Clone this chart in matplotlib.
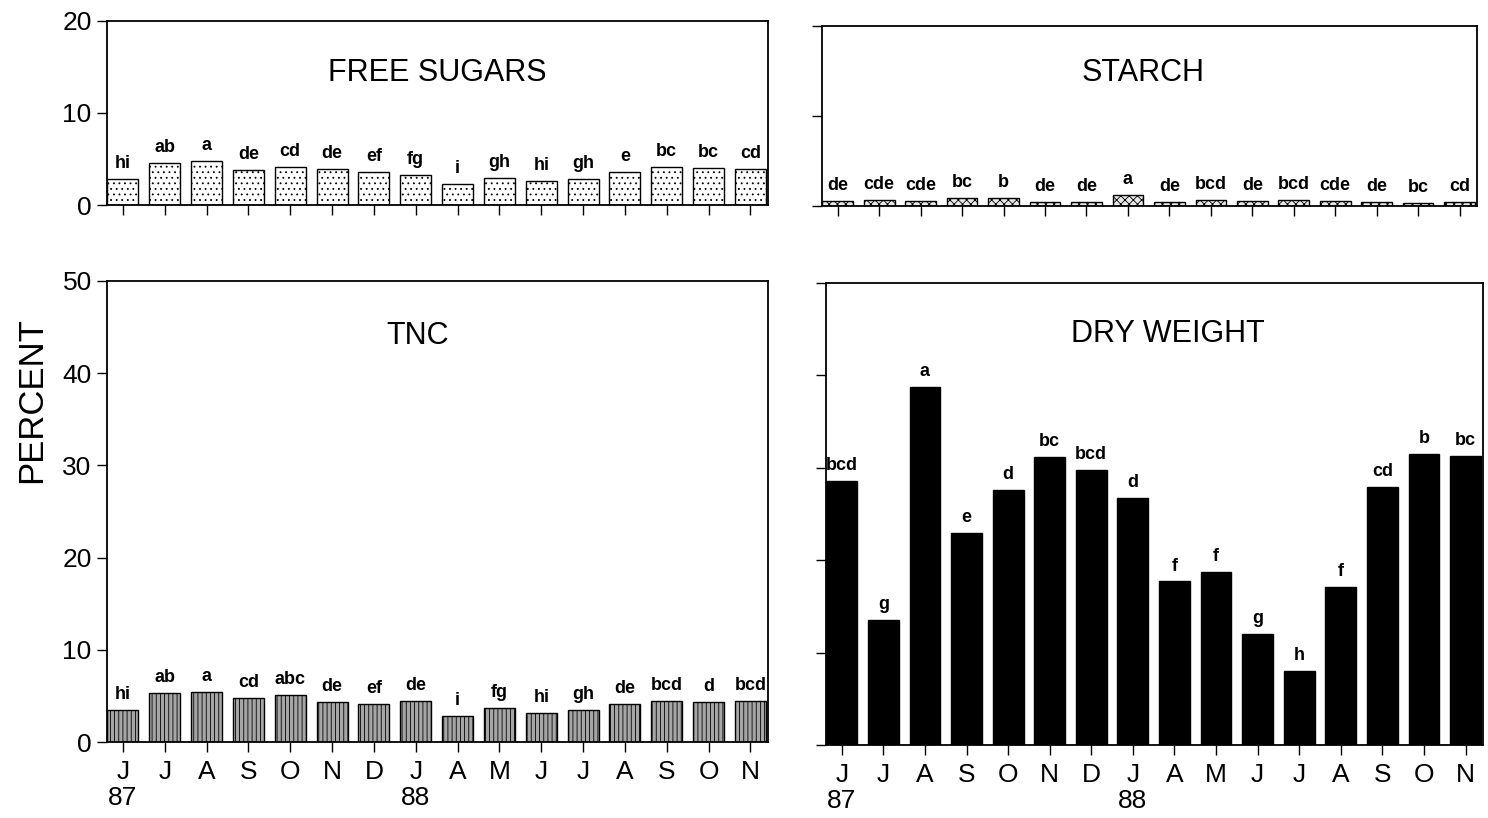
import numpy as np
import matplotlib
matplotlib.use("Agg")
import matplotlib.pyplot as plt

plt.rcParams['font.family'] = ['Liberation Sans', 'DejaVu Sans']
plt.rcParams['hatch.linewidth'] = 0.6

# Données
months = ['J', 'J', 'A', 'S', 'O', 'N', 'D', 'J', 'A', 'M', 'J', 'J', 'A', 'S', 'O', 'N']
years = {0: '87', 7: '88'}

sugars = [2.8, 4.55, 4.8, 3.8, 4.1, 3.9, 3.56, 3.24, 2.33, 2.95, 2.58, 2.8, 3.56, 4.1, 4.04, 3.9]
sugars_lab = ['hi', 'ab', 'a', 'de', 'cd', 'de', 'ef', 'fg', 'i', 'gh', 'hi', 'gh', 'e', 'bc', 'bc', 'cd']

starch = [0.55, 0.7, 0.6, 0.9, 0.9, 0.4, 0.45, 1.2, 0.4, 0.7, 0.55, 0.65, 0.55, 0.4, 0.35, 0.5]
starch_lab = ['de', 'cde', 'cde', 'bc', 'b', 'de', 'de', 'a', 'de', 'bcd', 'de', 'bcd', 'cde', 'de', 'bc', 'cd']

tnc = [3.45, 5.35, 5.45, 4.8, 5.1, 4.36, 4.1, 4.5, 2.8, 3.7, 3.15, 3.5, 4.1, 4.5, 4.36, 4.4]
tnc_lab = ['hi', 'ab', 'a', 'cd', 'abc', 'de', 'ef', 'de', 'i', 'fg', 'hi', 'gh', 'de', 'bcd', 'd', 'bcd']

dry = [28.6, 13.5, 38.7, 22.9, 27.6, 31.2, 29.8, 26.7, 17.7, 18.7, 12.0, 8.0, 17.1, 27.9, 31.5, 31.3]
dry_lab = ['bcd', 'g', 'a', 'e', 'd', 'bc', 'bcd', 'd', 'f', 'f', 'g', 'h', 'f', 'cd', 'b', 'bc']

W, H = 1488, 818
fig = plt.figure(figsize=(W / 100, H / 100), dpi=100)


def rect(left, right, top, bottom):
    return [left / W, 1 - bottom / H, (right - left) / W, (bottom - top) / H]


def panel(r, vals, labs, ymax, yticks, title, tpos, showy, showx, **barkw):
    ax = fig.add_axes(r)
    x = np.arange(len(vals))
    bars = ax.bar(x, vals, width=0.74, edgecolor='black', linewidth=1.0, **barkw)
    for b, lab in zip(bars, labs):
        ax.annotate(lab, (b.get_x() + b.get_width() / 2, b.get_height()),
                    xytext=(0, 5), textcoords='offset points',
                    ha='center', va='bottom', fontsize=13, fontweight='bold')
    ax.set_xlim(-0.38, 15.42)
    ax.set_ylim(0, ymax)
    ax.set_yticks(yticks)
    ax.set_xticks(x)
    if showx:
        ax.set_xticklabels([m + ('\n' + years[i] if i in years else '') for i, m in enumerate(months)],
                           fontsize=19, linespacing=1.1)
    else:
        ax.set_xticklabels([])
    if showy:
        ax.tick_params(axis='y', labelsize=19)
    else:
        ax.set_yticklabels([])
    ax.tick_params(direction='out', length=7, width=1.0, pad=4)
    ax.tick_params(axis='x', pad=6)
    for s in ax.spines.values():
        s.set_linewidth(1.3)
    ax.text(tpos[0], tpos[1], title, transform=ax.transAxes, ha='center', va='center', fontsize=22)
    return ax


panel(rect(107, 768, 21, 205), sugars, sugars_lab, 20, [0, 10, 20], 'FREE SUGARS', (0.5, 0.72),
      True, False, color='white', hatch='...')
panel(rect(822, 1477, 26, 206), starch, starch_lab, 20, [0, 10, 20], 'STARCH', (0.49, 0.74),
      False, False, color='#e8e8e8', hatch='xxxx')
panel(rect(107, 768, 281, 742), tnc, tnc_lab, 50, [0, 10, 20, 30, 40, 50], 'TNC', (0.47, 0.88),
      True, True, color='#a6a6a6', hatch='||||')
panel(rect(826, 1483, 283, 745), dry, dry_lab, 50, [0, 10, 20, 30, 40, 50], 'DRY WEIGHT', (0.52, 0.89),
      False, True, color='black')

fig.text(32 / W, 1 - 400 / H, 'PERCENT', rotation=90, ha='center', va='center', fontsize=25)

fig.savefig('out.png', dpi=100)
